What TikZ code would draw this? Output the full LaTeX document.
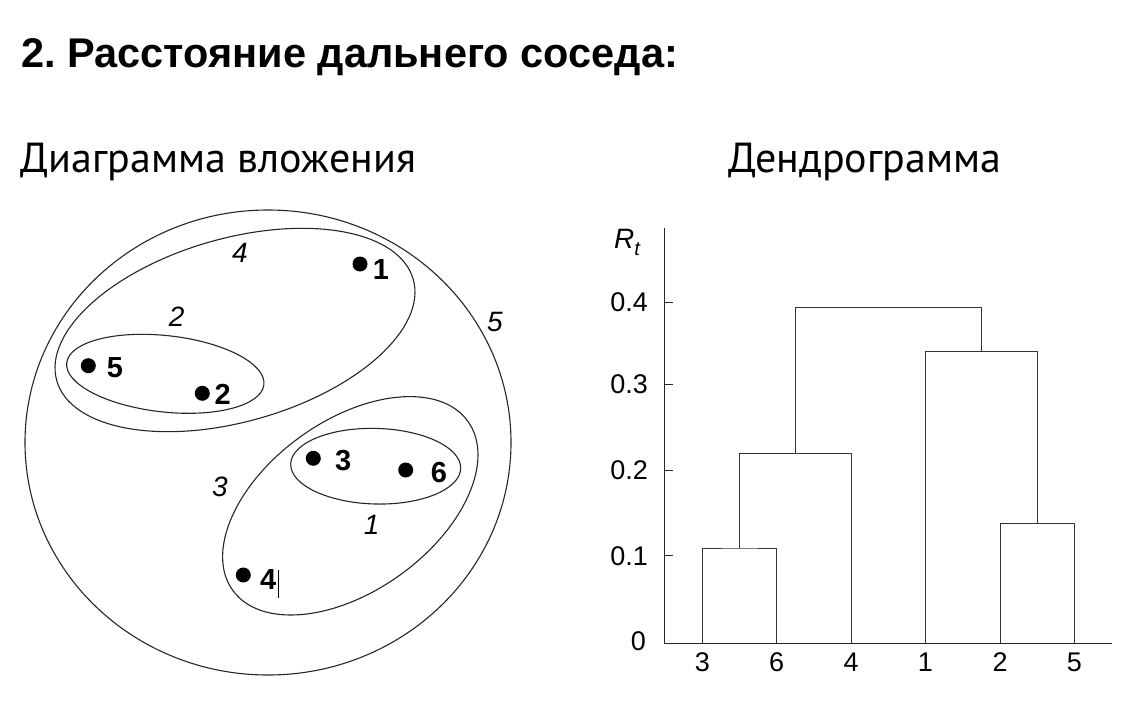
\documentclass[tikz,border=0pt]{standalone}
\usepackage{fontspec}
\setmainfont{PT Sans}
\newfontfamily\numfont{Liberation Sans}
\frenchspacing
\begin{document}
\begin{tikzpicture}[x=1pt,y=-1pt,line join=round,
  curve/.style={draw=black!85,line width=1.1pt},
  dot/.style={circle,fill=black,inner sep=0pt,minimum size=15pt},
  ptlabel/.style={font=\numfont\bfseries\fontsize{29}{32}\selectfont,inner sep=0pt},
  clabel/.style={font=\numfont\itshape\fontsize{28}{32}\selectfont,inner sep=0pt},
  dend/.style={draw=black!80,line width=1pt},
  axisline/.style={draw=black!85,line width=1pt},
  ticklabel/.style={font=\numfont\fontsize{27}{30}\selectfont,inner sep=0pt,anchor=east},
  leaflabel/.style={font=\numfont\fontsize{27}{30}\selectfont,inner sep=0pt},
  heading/.style={anchor=base west,inner sep=0pt,font=\fontsize{42}{48}\selectfont}]
\useasboundingbox (0,0) rectangle (1146,704);
% titles
\node[heading,font=\numfont\bfseries\fontsize{41.5}{48}\selectfont] (title) at (21,67.5) {2. Расстояние дальнего соседа:};
\node[heading] (sub1) at (20,172) {Диаграмма вложения};
\node[heading] (sub2) at (728,172) {Дендрограмма};
% nesting diagram
\draw[curve] (268,442.5) ellipse [x radius=243pt,y radius=232.5pt];
\draw[curve,rotate around={15.9:(235,330)}] (235,330) ellipse [x radius=185.3pt,y radius=91.6pt];
\draw[curve,rotate around={-6.3:(165.3,373.8)}] (165.3,373.8) ellipse [x radius=99.2pt,y radius=38.2pt];
\draw[curve,rotate around={35.7:(350.3,505.8)}] (350.3,505.8) ellipse [x radius=144.8pt,y radius=85.2pt];
\draw[curve,rotate around={-1.5:(375.7,466.2)}] (375.7,466.2) ellipse [x radius=85pt,y radius=37.8pt];
% points
\node[dot] (d1) at (360,264) {};
\node[dot] (d5) at (88.3,365.7) {};
\node[dot] (d2) at (202.3,393.3) {};
\node[dot] (d3) at (313.3,458.3) {};
\node[dot] (d6) at (405.7,470) {};
\node[dot] (d4) at (243.3,575) {};
\node[ptlabel] (l1) at (381,270) {1};
\node[ptlabel] (l5) at (115,367.7) {5};
\node[ptlabel] (l2) at (222.7,394.3) {2};
\node[ptlabel] (l3) at (343.3,460.7) {3};
\node[ptlabel] (l6) at (439,472.3) {6};
\node[ptlabel] (l4) at (268.3,580) {4};
\coordinate (bar1) at (278.5,570);
\coordinate (bar2) at (278.5,598.3);
\draw[line width=0.6pt] (bar1) -- (bar2);
% cluster labels
\node[clabel] (c4) at (240,253.3) {4};
\node[clabel] (c2) at (176.7,316.7) {2};
\node[clabel] (c5) at (495,321.7) {5};
\node[clabel] (c3) at (220,486.7) {3};
\node[clabel] (c1) at (371.7,525) {1};
% dendrogram axes
\coordinate (ytop) at (664.3,228);
\coordinate (origin) at (664.3,643.3);
\coordinate (xend) at (1112,643.3);
\draw[axisline] (ytop) -- (origin) -- (xend);
\node[font=\numfont\itshape\fontsize{28}{32}\selectfont,inner sep=0pt,anchor=base west] (rt) at (614,248) {R\raisebox{-0.25em}{\fontsize{20}{24}\selectfont t}};
\foreach \v/\y in {0.4/302.3,0.3/384.3,0.2/470,0.1/555.7}{
  \draw[axisline] (664.3,\y) -- (673.3,\y);
  \node[ticklabel] at (648,\y) {\v};
}
\node[ticklabel] (t0) at (646,641) {0};
% leaves
\foreach \n/\x in {3/702.3,6/776.7,4/851,1/925.3,2/1000,5/1074.3}{
  \coordinate (leaf\n) at (\x,643.3);
  \node[leaflabel] (lab\n) at (\x,662) {\n};
}
% merges
\coordinate (m36) at (739.5,548);
\coordinate (m364) at (795.7,453.7);
\coordinate (m25) at (1037.3,523.7);
\coordinate (m125) at (981.3,351.7);
\coordinate (mtop) at (888,307.7);
\draw[dend] (leaf3) |- (m36) -| (leaf6);
\draw[dend] (m36) |- (m364) -| (leaf4);
\draw[dend] (leaf2) |- (m25) -| (leaf5);
\draw[dend] (leaf1) |- (m125) -| (m25);
\draw[dend] (m364) |- (mtop) -| (m125);
\end{tikzpicture}
\end{document}
